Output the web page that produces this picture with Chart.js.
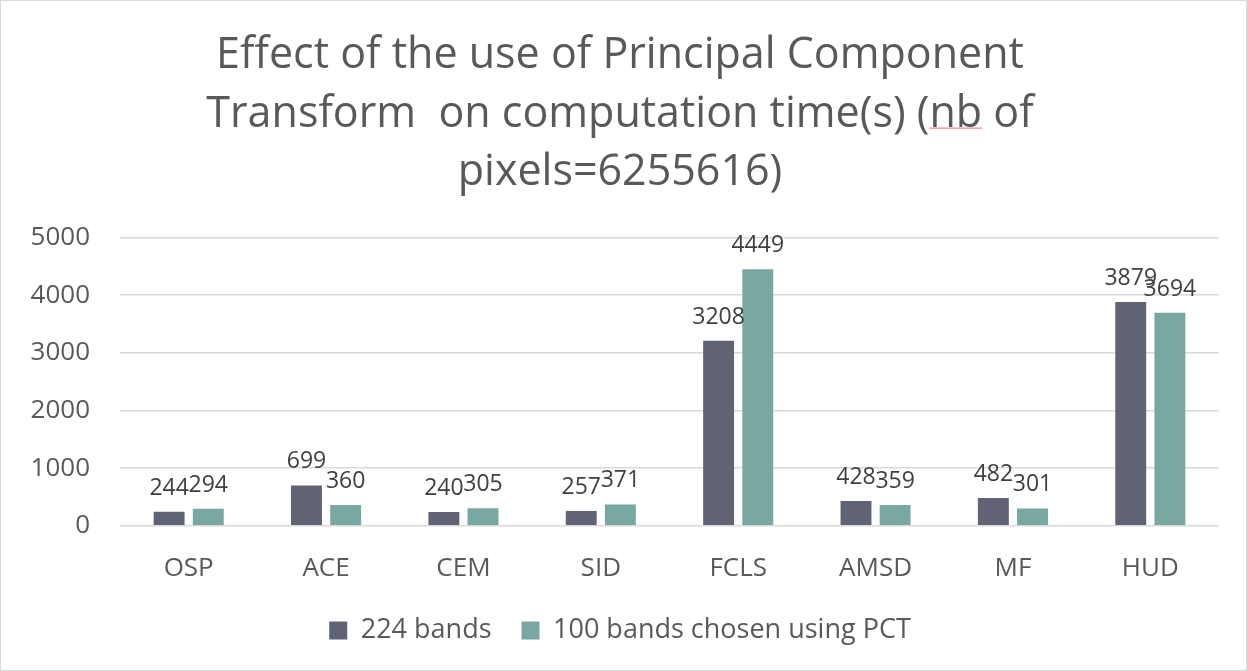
<!DOCTYPE html>
<html>
<head>
<meta charset="utf-8">
<script src="https://cdn.jsdelivr.net/npm/chart.js@4/dist/chart.umd.min.js"></script>
<style>
  html, body { margin: 0; padding: 0; background: #fff; }
  #wrap { position: relative; width: 1245px; height: 669px; border: 1px solid #d9d9d9; }
</style>
</head>
<body>
<div id="wrap"><canvas id="c"></canvas></div>
<script>
const categories = ['OSP', 'ACE', 'CEM', 'SID', 'FCLS', 'AMSD', 'MF', 'HUD'];
const bands224 = [244, 699, 240, 257, 3208, 428, 482, 3879];
const bandsPCT = [294, 360, 305, 371, 4449, 359, 301, 3694];
const seriesNames = ['224 bands', '100 bands chosen using PCT'];
const titleLines = ['Effect of the use of Principal Component', 'Transform  on computation time(s) (nb of', 'pixels=6255616)'];
const yTicks = [0, 1000, 2000, 3000, 4000, 5000];

const FONT = "'Open Sans', sans-serif";
const TITLE_SIZE = 43;
const TITLE_LH = 1.36;

const valueLabels = {
  id: 'valueLabels',
  afterDatasetsDraw(chart) {
    const ctx = chart.ctx;
    ctx.save();
    ctx.font = '23px ' + FONT;
    ctx.fillStyle = '#404040';
    ctx.textAlign = 'center';
    ctx.textBaseline = 'alphabetic';
    chart.data.datasets.forEach((ds, i) => {
      const meta = chart.getDatasetMeta(i);
      meta.data.forEach((bar, j) => {
        ctx.fillText(String(ds.data[j]), bar.x, bar.y - 17);
      });
    });
    ctx.restore();
  }
};

// spell-check style underline under "nb" in the title, as in the source picture
const spellMark = {
  id: 'spellMark',
  afterDraw(chart) {
    const t = chart.titleBlock;
    if (!t) return;
    const ctx = chart.ctx;
    ctx.save();
    ctx.font = TITLE_SIZE + 'px ' + FONT;
    const line = titleLines[1];
    const full = ctx.measureText(line).width;
    const idx = line.indexOf('nb');
    const pre = ctx.measureText(line.slice(0, idx)).width;
    const w = ctx.measureText('nb').width;
    const cx = (t.left + t.right) / 2;
    const x0 = cx - full / 2 + pre;
    const lh = TITLE_SIZE * TITLE_LH;
    const y = t.top + t.options.padding.top + lh * 1.5 + TITLE_SIZE * 0.5 - 8;
    ctx.strokeStyle = '#e8898f';
    ctx.lineWidth = 1.2;
    ctx.beginPath();
    ctx.moveTo(x0, y);
    ctx.lineTo(x0 + w, y);
    ctx.stroke();
    ctx.restore();
  }
};

new Chart(document.getElementById('c'), {
  type: 'bar',
  data: {
    labels: categories,
    datasets: [
      { label: seriesNames[0], data: bands224, backgroundColor: '#5f6373' },
      { label: seriesNames[1], data: bandsPCT, backgroundColor: '#79a8a2' }
    ]
  },
  options: {
    responsive: true,
    maintainAspectRatio: false,
    animation: false,
    datasets: { bar: { categoryPercentage: 0.57, barPercentage: 0.79 } },
    layout: { padding: { left: 20, right: 27, top: 0, bottom: 16 } },
    plugins: {
      title: {
        display: true,
        text: titleLines,
        color: '#595959',
        font: { family: FONT, size: TITLE_SIZE, weight: 'normal', lineHeight: TITLE_LH },
        padding: { top: 26, bottom: 35 }
      },
      legend: {
        position: 'bottom',
        labels: {
          color: '#595959',
          font: { family: FONT, size: 27 },
          boxWidth: 18,
          boxHeight: 18,
          padding: 30
        }
      },
      tooltip: { enabled: false }
    },
    scales: {
      x: {
        afterFit(scale) { scale.height = scale.height - 16; },
        grid: { display: false },
        border: { display: false },
        ticks: { color: '#595959', font: { family: FONT, size: 26 }, padding: 19 }
      },
      y: {
        min: 0,
        max: 5000,
        afterBuildTicks(scale) { scale.ticks = yTicks.map(v => ({ value: v })); },
        afterFit(scale) { scale.width = 99; },
        grid: { color: '#d9d9d9', lineWidth: 1.5, drawTicks: false },
        border: { display: false },
        ticks: { color: '#595959', font: { family: FONT, size: 26 }, padding: 30, callback: v => String(v) }
      }
    }
  },
  plugins: [valueLabels, spellMark]
});
</script>
</body>
</html>
